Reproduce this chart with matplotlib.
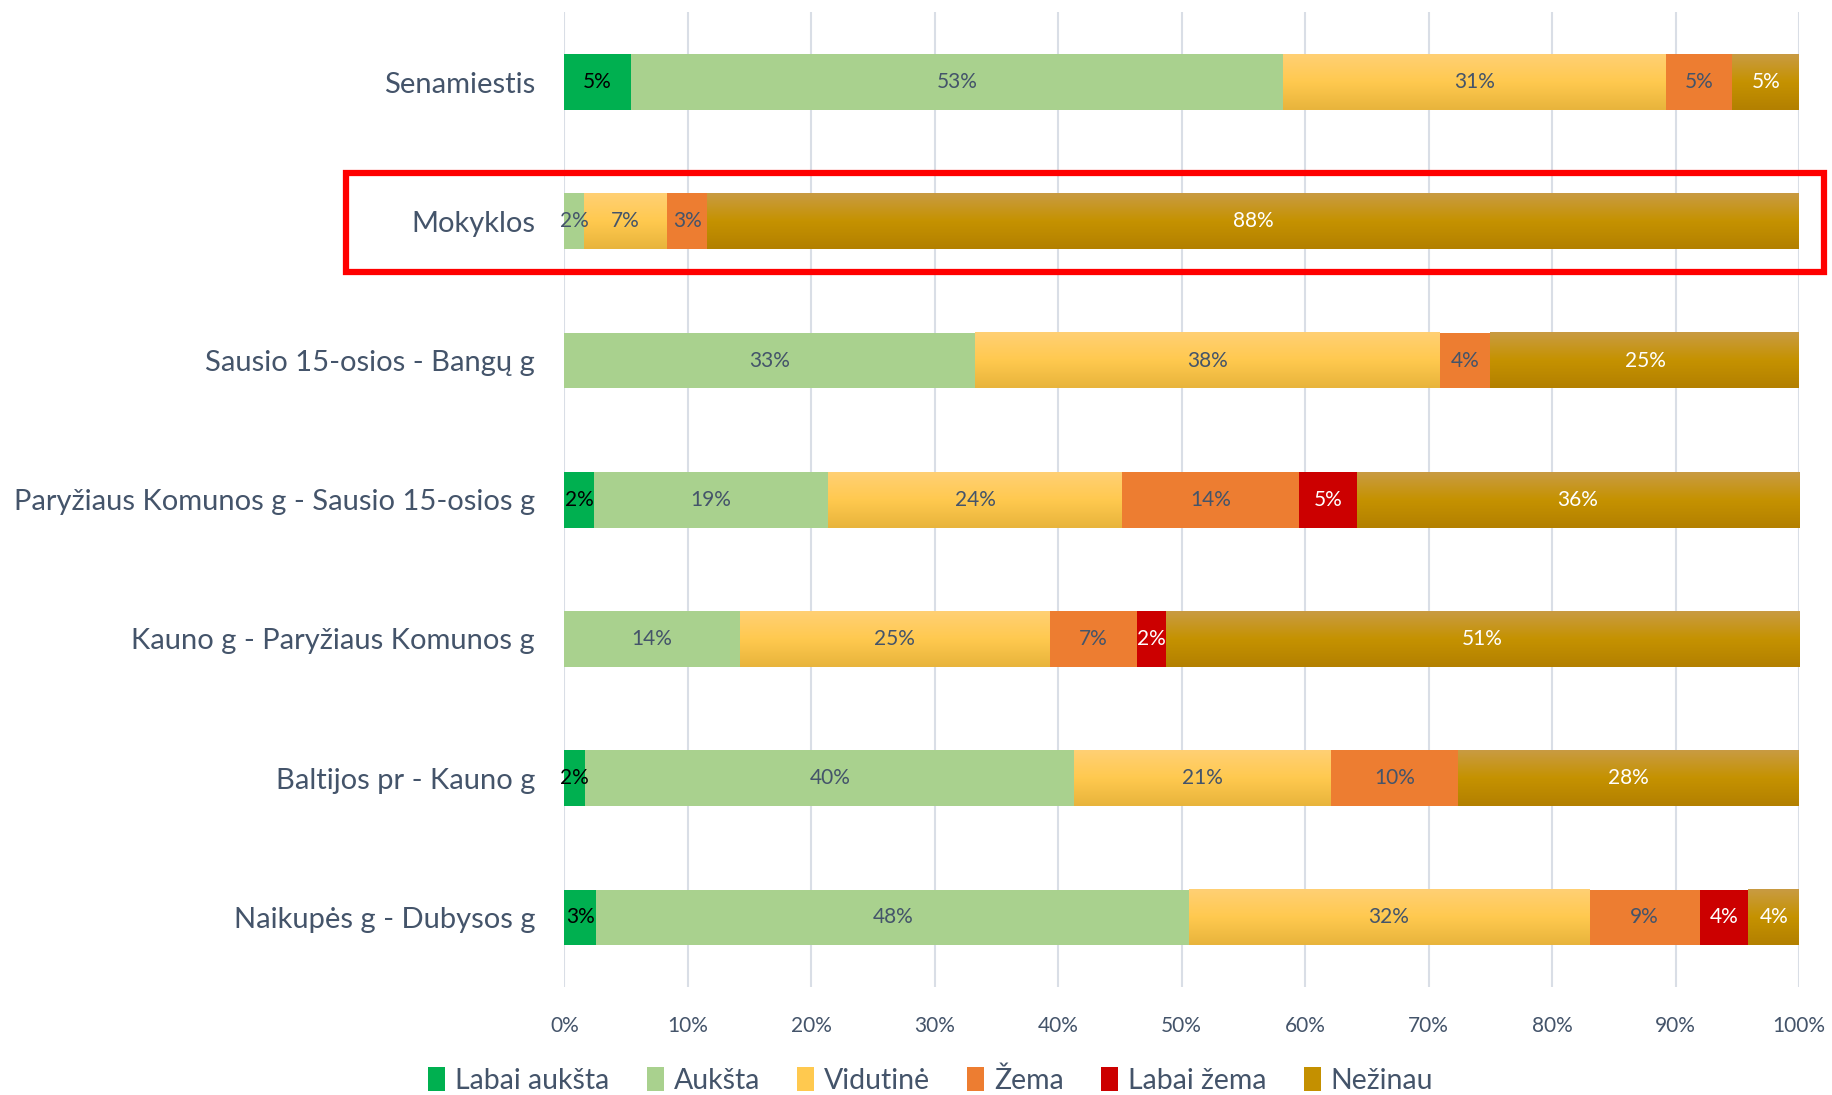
import numpy as np
import matplotlib.pyplot as plt
from matplotlib.colors import LinearSegmentedColormap
from matplotlib.patches import Rectangle, Patch

plt.rcParams['font.family'] = ['Lato', 'DejaVu Sans']

categories = ['Senamiestis', 'Mokyklos', 'Sausio 15-osios - Bangų g',
              'Paryžiaus Komunos g - Sausio 15-osios g', 'Kauno g - Paryžiaus Komunos g',
              'Baltijos pr - Kauno g', 'Naikupės g - Dubysos g']
series = ['Labai aukšta', 'Aukšta', 'Vidutinė', 'Žema', 'Labai žema', 'Nežinau']

labai_auksta = [5.4, 0.0, 0.0, 2.4, 0.0, 1.7, 2.6]
auksta = [52.8, 1.6, 33.3, 19.0, 14.2, 39.6, 48.0]
vidutine = [31.0, 6.7, 37.6, 23.8, 25.1, 20.8, 32.4]
zema = [5.4, 3.3, 4.1, 14.3, 7.1, 10.3, 9.0]
labai_zema = [0.0, 0.0, 0.0, 4.7, 2.3, 0.0, 3.9]
nezinau = [5.4, 88.4, 25.1, 35.8, 51.3, 27.6, 4.1]

values = [labai_auksta, auksta, vidutine, zema, labai_zema, nezinau]
colors = ['#00B050', '#A9D18E', '#FFC94F', '#ED7D31', '#CC0000', '#C49000']
text_colors = ['black', '#44546A', '#44546A', '#44546A', 'white', 'white']
# vertical gradients for two of the series (top -> middle -> bottom)
gradients = {
    2: ['#FFD074', '#FFC94F', '#E8B43C'],
    5: ['#C99B42', '#C59200', '#B38000'],
}

fig = plt.figure(figsize=(18.32, 10.95), dpi=100)
ax = fig.add_axes([0.308, 0.0986, 0.674, 0.890])

y = np.arange(len(categories))
h = 0.4
left = np.zeros(len(categories))
for i, (name, vals) in enumerate(zip(series, values)):
    vals = np.array(vals)
    bars = ax.barh(y, vals, left=left, height=h, color=colors[i], zorder=2)
    if i in gradients:
        cmap = LinearSegmentedColormap.from_list(name, gradients[i])
        grad = np.linspace(0, 1, 64).reshape(-1, 1)
        for b in bars:
            if b.get_width() <= 0:
                continue
            x0, y0 = b.get_x(), b.get_y()
            ax.imshow(grad, cmap=cmap, aspect='auto', zorder=2.5,
                      extent=(x0, x0 + b.get_width(), y0 + h, y0),
                      interpolation='bilinear')
    for yy, v, l in zip(y, vals, left):
        if v > 0:
            ax.text(l + v / 2, yy, f'{round(v)}%', ha='center', va='center',
                    fontsize=15, color=text_colors[i], zorder=4)
    left += vals

ax.set_xlim(0, 100)
ax.set_ylim(len(categories) - 0.5, -0.5)
ax.set_xticks(np.arange(0, 101, 10))
ax.set_xticklabels([f'{t}%' for t in range(0, 101, 10)])
ax.set_yticks(y)
ax.set_yticklabels(categories)
ax.tick_params(axis='x', length=0, pad=21, labelsize=15, labelcolor='#44546A')
ax.tick_params(axis='y', length=0, pad=21, labelsize=21, labelcolor='#44546A')
ax.grid(axis='x', color='#D9DEE6', linewidth=1.5, zorder=0)
ax.set_axisbelow(True)
for s in ax.spines.values():
    s.set_visible(False)

# highlight frame around the school row
fig.patches.append(Rectangle((346 / 1832, 1 - 272 / 1095), (1824 - 346) / 1832, (272 - 173) / 1095,
                             transform=fig.transFigure, fill=False, edgecolor='#FF0000',
                             linewidth=4.5, zorder=10))

handles = [Patch(facecolor=c, edgecolor='none') for c in colors]
fig.legend(handles, series, loc='center', bbox_to_anchor=(0.508, 0.013), ncol=6,
           frameon=False, fontsize=20.5, labelcolor='#44546A', handlelength=0.6,
           handleheight=0.9, handletextpad=0.35, columnspacing=1.3)

fig.savefig('out.png', dpi=100)
